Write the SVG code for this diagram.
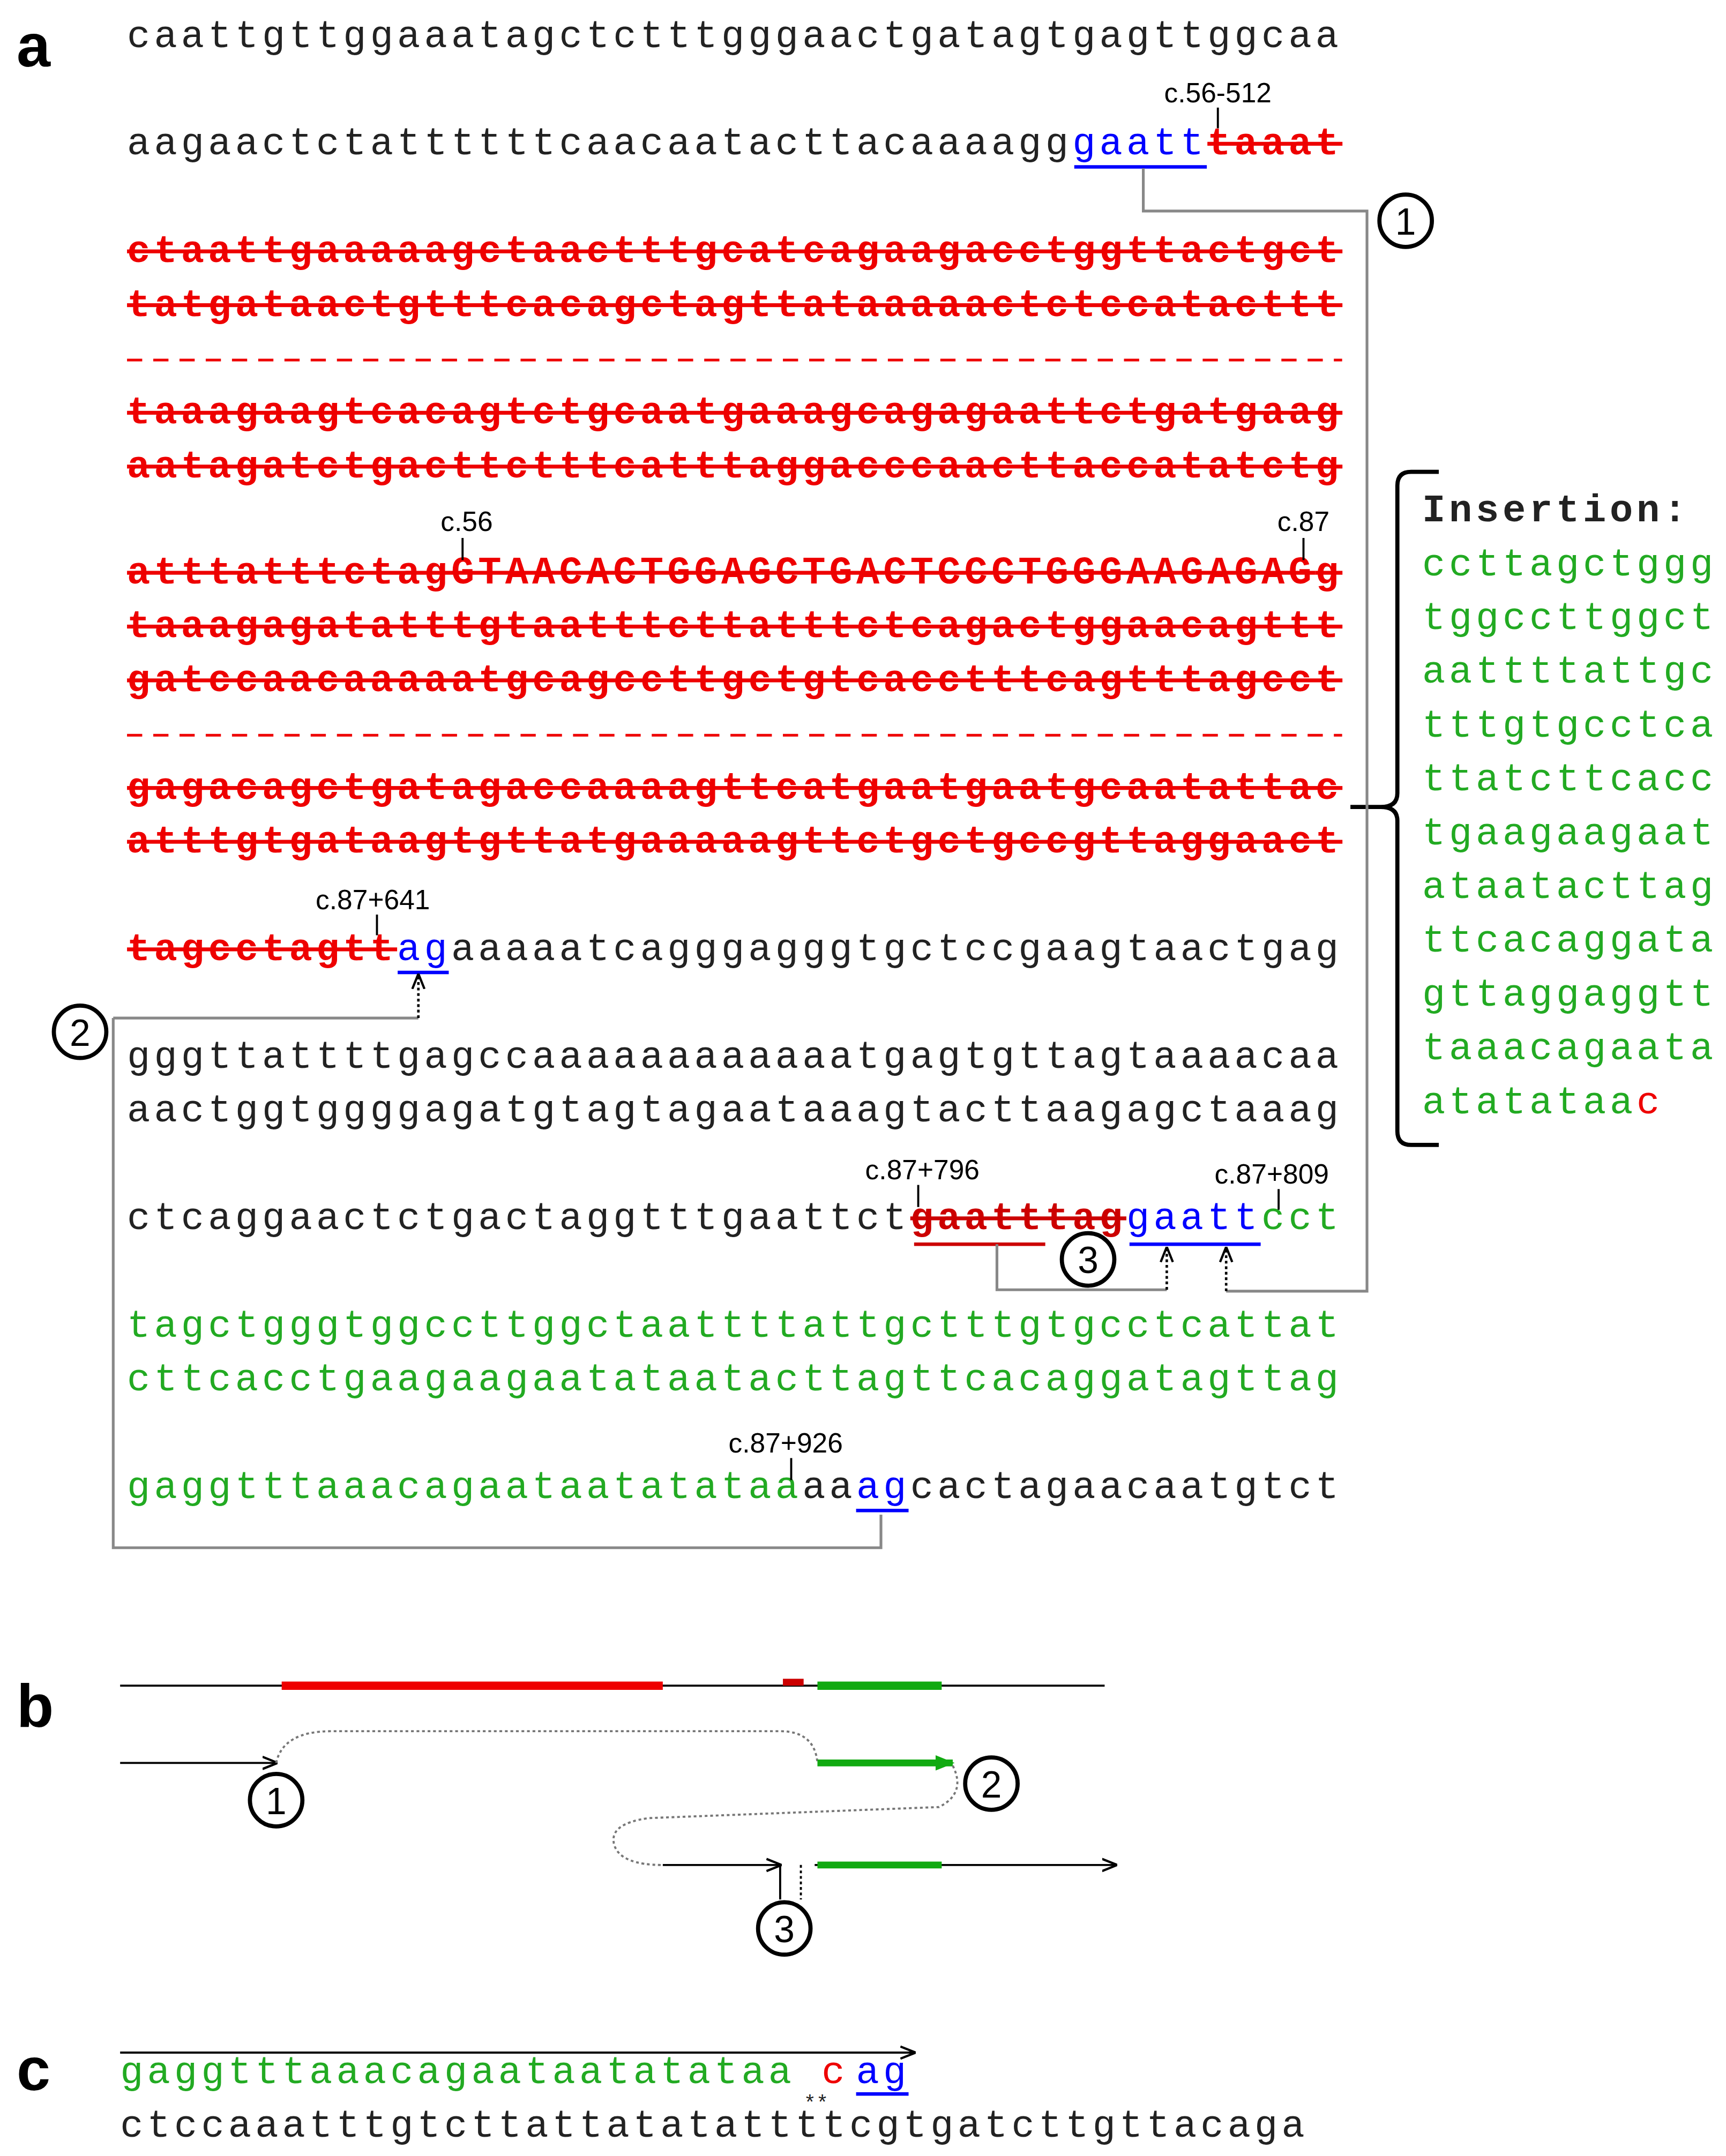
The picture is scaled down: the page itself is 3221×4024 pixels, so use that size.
<svg xmlns="http://www.w3.org/2000/svg" width="3221" height="4024" viewBox="0 0 3221 4024">
<defs>
<style>
.s{font-family:"Liberation Mono",monospace;font-size:28px;letter-spacing:2.76px}
.k{fill:#222}.r{fill:#e00;font-weight:bold;text-decoration:line-through}
.b{fill:#00f}.g{fill:#2a2}
.rd{fill:#e00}
.ul{stroke:#00f;stroke-width:2.5}
.lab{font-family:"Liberation Sans",Arial,sans-serif;font-size:20px;fill:#000;text-anchor:middle}
.tk{stroke:#000;stroke-width:1.5}
.cn{fill:none;stroke:#888;stroke-width:2}
.dt{fill:none;stroke:#000;stroke-width:1.8;stroke-dasharray:2 2}
.ci circle{fill:#fff;stroke:#000;stroke-width:3}
.ci text{font-family:"Liberation Sans",Arial,sans-serif;font-size:27px;text-anchor:middle;fill:#000}
.big{font-family:"Liberation Sans",Arial,sans-serif;font-size:44px;font-weight:bold;fill:#000}
</style>
<marker id="ah" viewBox="0 0 10 10" refX="9" refY="5" markerWidth="11" markerHeight="11" markerUnits="userSpaceOnUse" orient="auto"><path d="M0,1 L10,5 L0,9" fill="none" stroke="#000" stroke-width="1.5"/></marker>
<marker id="ag" viewBox="0 0 10 10" refX="9" refY="5" markerWidth="14" markerHeight="14" markerUnits="userSpaceOnUse" orient="auto"><path d="M0,1 L10,5 L0,9 Z" fill="#1a1"/></marker>
</defs>
<rect width="3221" height="4024" fill="#fff"/>
<g transform="scale(2.5768,2.5746)">
<text class="big" x="12" y="48">a</text>
<text class="big" x="12" y="1252">b</text>
<text class="big" x="12" y="1515">c</text>

<g id="seq" class="s">
<text x="92" y="34" class="k">caattgttggaaatagctctttgggaactgatagtgagttggcaa</text>
<text x="92" y="112"><tspan class="k">aagaactctattttttcaacaatacttacaaaagg</tspan><tspan class="b">gaatt</tspan><tspan class="r">taaat</tspan></text>
<text x="92" y="190" class="r">ctaattgaaaaagctaactttgcatcagaagacctggttactgct</text>
<text x="92" y="229" class="r">tatgataactgtttcacagctagttataaaaactctccatacttt</text>
<text x="92" y="307" class="r">taaagaagtcacagtctgcaatgaaagcagagaattctgatgaag</text>
<text x="92" y="346" class="r">aatagatctgacttctttcatttaggacccaacttaccatatctg</text>
<text x="92" y="423" class="r"><tspan>atttatttctag</tspan><tspan>GTAACACTGGAGCTGACTCCCTGGGAAGAGAG</tspan><tspan>g</tspan></text>
<text x="92" y="462" class="r">taaagagatatttgtaatttcttatttctcagactggaacagttt</text>
<text x="92" y="501" class="r">gatccaacaaaaatgcagccttgctgtcacctttcagtttagcct</text>
<text x="92" y="579" class="r">gagacagctgatagaccaaaagttcatgaatgaatgcaatattac</text>
<text x="92" y="618" class="r">atttgtgataagtgttatgaaaaagttctgctgccgttaggaact</text>
<text x="92" y="696"><tspan class="r">tagcctagtt</tspan><tspan class="b">ag</tspan><tspan class="k">aaaaatcagggagggtgctccgaagtaactgag</tspan></text>
<text x="92" y="774" class="k">gggttattttgagccaaaaaaaaaaaatgagtgttagtaaaacaa</text>
<text x="92" y="813" class="k">aactggtggggagatgtagtagaataaagtacttaagagctaaag</text>
<text x="92" y="891"><tspan class="k">ctcaggaactctgactaggtttgaattct</tspan><tspan class="r" style="fill:#c00">gaatttag</tspan><tspan class="b">gaatt</tspan><tspan class="g">cct</tspan></text>
<text x="92" y="969" class="g">tagctgggtggccttggctaattttattgctttgtgcctcattat</text>
<text x="92" y="1008" class="g">cttcacctgaagaagaatataatacttagttcacaggatagttag</text>
<text x="92" y="1086"><tspan class="g">gaggtttaaacagaataatatataa</tspan><tspan class="k">aa</tspan><tspan class="b">ag</tspan><tspan class="k">cactagaacaatgtct</tspan></text>
<line x1="92" y1="261" x2="972" y2="261" stroke="#e00" stroke-width="2" stroke-dasharray="11 8"/>
<line x1="92" y1="533" x2="972" y2="533" stroke="#e00" stroke-width="2" stroke-dasharray="11 8"/>
<line class="ul" x1="778" y1="121" x2="874" y2="121"/>
<line class="ul" x1="288" y1="705" x2="325" y2="705"/>
<line class="ul" x1="620" y1="1095" x2="658" y2="1095"/>
<line x1="662" y1="902" x2="757" y2="902" stroke="#c00" stroke-width="2.5"/>
<line x1="818" y1="902" x2="913" y2="902" stroke="#00f" stroke-width="2.5"/>
</g>

<g id="labels">
<text class="lab" x="882" y="74">c.56-512</text><line class="tk" x1="882" y1="78" x2="882" y2="93"/>
<text class="lab" x="338" y="385">c.56</text><line class="tk" x1="335" y1="390" x2="335" y2="406"/>
<text class="lab" x="944" y="385">c.87</text><line class="tk" x1="944" y1="390" x2="944" y2="406"/>
<text class="lab" x="270" y="659">c.87+641</text><line class="tk" x1="273" y1="663" x2="273" y2="678"/>
<text class="lab" x="668" y="855">c.87+796</text><line class="tk" x1="665" y1="859" x2="665" y2="875"/>
<text class="lab" x="921" y="858">c.87+809</text><line class="tk" x1="926" y1="862" x2="926" y2="877"/>
<text class="lab" x="569" y="1053">c.87+926</text><line class="tk" x1="573" y1="1057" x2="573" y2="1073"/>
</g>

<g id="insertion" class="s" style="letter-spacing:2.6px">
<text x="1030" y="378" style="font-weight:bold;fill:#222">Insertion:</text>
<text x="1030" y="417" class="g">ccttagctggg</text>
<text x="1030" y="456" class="g">tggccttggct</text>
<text x="1030" y="495" class="g">aattttattgc</text>
<text x="1030" y="534" class="g">tttgtgcctca</text>
<text x="1030" y="573" class="g">ttatcttcacc</text>
<text x="1030" y="612" class="g">tgaagaagaat</text>
<text x="1030" y="651" class="g">ataatacttag</text>
<text x="1030" y="690" class="g">ttcacaggata</text>
<text x="1030" y="729" class="g">gttaggaggtt</text>
<text x="1030" y="768" class="g">taaacagaata</text>
<text x="1030" y="807"><tspan class="g">atatataa</tspan><tspan class="rd">c</tspan></text>
<path d="M1042,342 L1022,342 Q1012,342 1012,352 L1012,575 Q1012,585 1000,585 L978,585 M1000,585 Q1012,585 1012,595 L1012,820 Q1012,830 1022,830 L1042,830" fill="none" stroke="#000" stroke-width="3"/>
</g>

<g id="connectors">
<polyline class="cn" points="828,122 828,153 990,153 990,936 888,936"/>
<line class="dt" x1="888" y1="936" x2="888" y2="905" marker-end="url(#ah)"/>
<polyline class="cn" points="82,738 303,738"/>
<line class="dt" x1="303" y1="738" x2="303" y2="707" marker-end="url(#ah)"/>
<polyline class="cn" points="82,738 82,1122 638,1122 638,1098"/>
<polyline class="cn" points="722,902 722,935 845,935"/>
<line class="dt" x1="845" y1="935" x2="845" y2="905" marker-end="url(#ah)"/>
</g>
<g id="c1" class="ci"><circle cx="1018" cy="160" r="19"/><text x="1018" y="170">1</text></g>
<g id="c2" class="ci"><circle cx="58" cy="748" r="19"/><text x="58" y="758">2</text></g>
<g id="c3" class="ci"><circle cx="788" cy="913" r="19"/><text x="788" y="923">3</text></g>

<g id="panel-b">
<line x1="87" y1="1222" x2="800" y2="1222" stroke="#000" stroke-width="1.5"/>
<line x1="204" y1="1222" x2="480" y2="1222" stroke="#e00" stroke-width="6"/>
<rect x="567" y="1217" width="15" height="5" fill="#c00"/>
<line x1="592" y1="1222" x2="682" y2="1222" stroke="#1a1" stroke-width="6"/>
<line x1="87" y1="1278" x2="200" y2="1278" stroke="#000" stroke-width="1.5" marker-end="url(#ah)"/>
<path d="M200,1278 Q205,1255 240,1255 L565,1255 Q590,1255 592,1278" fill="none" stroke="#777" stroke-width="1.5" stroke-dasharray="2 2"/>
<line x1="592" y1="1278" x2="690" y2="1278" stroke="#1a1" stroke-width="5" marker-end="url(#ag)"/>
<path d="M690,1280 Q700,1300 680,1310 L470,1318 Q440,1322 445,1338 Q450,1352 480,1352" fill="none" stroke="#777" stroke-width="1.5" stroke-dasharray="2 2"/>
<line x1="480" y1="1352" x2="565" y2="1352" stroke="#000" stroke-width="1.5" marker-end="url(#ah)"/>
<line x1="590" y1="1352" x2="808" y2="1352" stroke="#000" stroke-width="1.5" marker-end="url(#ah)"/>
<line x1="592" y1="1352" x2="682" y2="1352" stroke="#1a1" stroke-width="5"/>
<line x1="565" y1="1352" x2="565" y2="1377" stroke="#000" stroke-width="1.5"/>
<line x1="580" y1="1352" x2="580" y2="1377" stroke="#000" stroke-width="1.5" stroke-dasharray="2 2"/>
</g>
<g id="b1" class="ci"><circle cx="200" cy="1305" r="19"/><text x="200" y="1315">1</text></g>
<g id="b2" class="ci"><circle cx="718" cy="1293" r="19"/><text x="718" y="1303">2</text></g>
<g id="b3" class="ci"><circle cx="568" cy="1398" r="19"/><text x="568" y="1408">3</text></g>

<g id="panel-c" class="s">
<line x1="87" y1="1488" x2="662" y2="1488" stroke="#000" stroke-width="1.5" marker-end="url(#ah)"/>
<text x="87" y="1510"><tspan class="g">gaggtttaaacagaataatatataa</tspan></text>
<text x="595" y="1510" class="rd">c</text>
<text x="620" y="1510" class="b">ag</text>
<line class="ul" x1="620" y1="1518" x2="658" y2="1518"/>
<text x="87" y="1549" class="k">ctccaaatttgtcttattatatattttcgtgatcttgttacaga</text>
<text x="582" y="1529" class="k" style="font-size:15px;letter-spacing:0">**</text>
</g>
</g>
</svg>
